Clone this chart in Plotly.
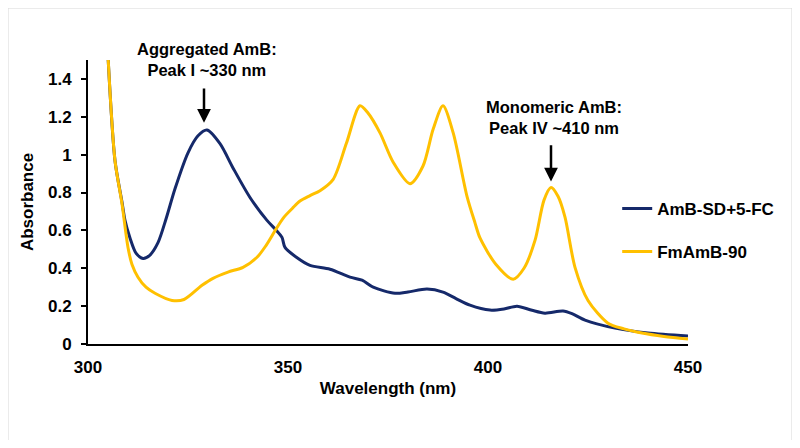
import plotly.graph_objects as go

# Wavelength (nm) / absorbance
wl_amb_sd = [305, 306.75, 308.5, 309.25, 310.5, 312, 313.75, 315.5, 317.5, 319.5, 321.75, 325,
             327.5, 329.75, 333, 336.25, 340.5, 344.75, 347.1, 348.5, 349.25, 352.1, 355.5,
             360.5, 365.5, 368.5, 371.3, 376.75, 380, 384.75, 388.75, 392, 395.5, 400.5,
             404, 407.25, 411, 414.25, 418.75, 421, 424.25, 431.75, 440, 450]
abs_amb_sd = [1.52, 0.968, 0.75, 0.653, 0.56, 0.48, 0.452, 0.47, 0.535, 0.66, 0.82, 1.01,
              1.10, 1.13, 1.058, 0.93, 0.774, 0.653, 0.60, 0.563, 0.51, 0.458, 0.415,
              0.395, 0.353, 0.337, 0.30, 0.268, 0.275, 0.29, 0.274, 0.24, 0.205, 0.179,
              0.185, 0.20, 0.178, 0.163, 0.174, 0.16, 0.126, 0.084, 0.058, 0.042]

wl_fmamb = [305, 306.75, 308.5, 310, 311, 312.5, 314.5, 316.75, 321, 324, 328.5, 331.25, 335,
            338.75, 342.25, 344.5, 347.1, 349, 351.25, 353, 355.5, 358, 361.3, 364.6, 368,
            370, 373, 376.3, 380.5, 383.75, 386.3, 388.75, 391.3, 394.75, 396.75, 398, 402,
            406.3, 409, 411.75, 414, 415.75, 417.5, 419.25, 421.75, 425, 430, 434, 438.5,
            444, 450]
abs_fmamb = [1.52, 0.968, 0.74, 0.51, 0.42, 0.353, 0.30, 0.268, 0.23, 0.235, 0.31, 0.347,
             0.38, 0.405, 0.458, 0.52, 0.61, 0.67, 0.72, 0.755, 0.784, 0.81, 0.87, 1.06,
             1.258, 1.22, 1.115, 0.96, 0.847, 0.94, 1.135, 1.258, 1.115, 0.78, 0.64, 0.56,
             0.42, 0.342, 0.40, 0.547, 0.76, 0.826, 0.78, 0.67, 0.405, 0.23, 0.11, 0.08,
             0.058, 0.04, 0.026]

series_names = ["AmB-SD+5-FC", "FmAmB-90"]
x_ticks = [300, 350, 400, 450]
y_ticks = [0, 0.2, 0.4, 0.6, 0.8, 1, 1.2, 1.4]
y_tick_labels = ["0", "0.2", "0.4", "0.6", "0.8", "1", "1.2", "1.4"]

NAVY = "#15296A"
GOLD = "#FFC000"
FONT = "Liberation Sans"

fig = go.Figure()
fig.add_trace(go.Scatter(x=wl_amb_sd, y=abs_amb_sd, mode="lines", name=series_names[0],
                         legendgroup="a",
                         line=dict(color=NAVY, width=3, shape="spline", smoothing=0.8)))
fig.add_trace(go.Scatter(x=wl_fmamb, y=abs_fmamb, mode="lines", name=series_names[1],
                         legendgroup="b",
                         line=dict(color=GOLD, width=3, shape="spline", smoothing=0.8)))

fig.update_layout(
    width=784, height=432,
    margin=dict(l=80, r=104, t=52, b=96),
    paper_bgcolor="white", plot_bgcolor="white",
    font=dict(family=FONT, color="black"),
    showlegend=True,
    legend=dict(x=0.882, y=0.40, xanchor="left", yanchor="middle",
                traceorder="grouped", tracegroupgap=18,
                font=dict(family=FONT, size=17, color="black", weight="bold"),
                bgcolor="rgba(0,0,0,0)"),
    xaxis=dict(range=[300, 450], tickvals=x_ticks, ticks="", showgrid=False,
               zeroline=False, showline=True, linecolor="black", linewidth=2,
               ticklabelstandoff=7,
               tickfont=dict(family=FONT, size=17, color="black", weight="bold"),
               title=dict(text="Wavelength (nm)", standoff=6,
                          font=dict(family=FONT, size=17, color="black", weight="bold"))),
    yaxis=dict(range=[0, 1.5], tickvals=y_ticks, ticktext=y_tick_labels, ticks="outside",
               ticklen=5, tickwidth=1.5, tickcolor="black", showgrid=False,
               zeroline=False, showline=True, linecolor="black", linewidth=2,
               ticklabelstandoff=6,
               tickfont=dict(family=FONT, size=17, color="black", weight="bold"),
               title=dict(text="Absorbance", standoff=10,
                          font=dict(family=FONT, size=17, color="black", weight="bold"))),
)

# Outer light-grey frame
fig.add_shape(type="rect", xref="paper", yref="paper",
              x0=-0.1333, x1=1.1733, y0=-0.3415, y1=1.183,
              line=dict(color="#D9D9D9", width=1), fillcolor="rgba(0,0,0,0)", layer="below")

ann_font = dict(family=FONT, size=16.5, color="black", weight="bold")
# Aggregated AmB label + arrow
fig.add_annotation(x=329.75, y=1.39, xref="x", yref="y", text="Aggregated AmB:<br>Peak I ~330 nm",
                   showarrow=False, yanchor="bottom", font=ann_font)
fig.add_annotation(x=329, y=1.168, ax=329, ay=1.358, xref="x", yref="y", axref="x", ayref="y",
                   text="", showarrow=True, arrowhead=2, arrowsize=1.1, arrowwidth=2.5,
                   arrowcolor="black")
# Monomeric AmB label + arrow
fig.add_annotation(x=416.5, y=1.084, xref="x", yref="y", text="Monomeric AmB:<br>Peak IV ~410 nm",
                   showarrow=False, yanchor="bottom", font=ann_font)
fig.add_annotation(x=415.75, y=0.858, ax=415.75, ay=1.058, xref="x", yref="y", axref="x", ayref="y",
                   text="", showarrow=True, arrowhead=2, arrowsize=1.1, arrowwidth=2.5,
                   arrowcolor="black")

fig.write_html("out.html")
